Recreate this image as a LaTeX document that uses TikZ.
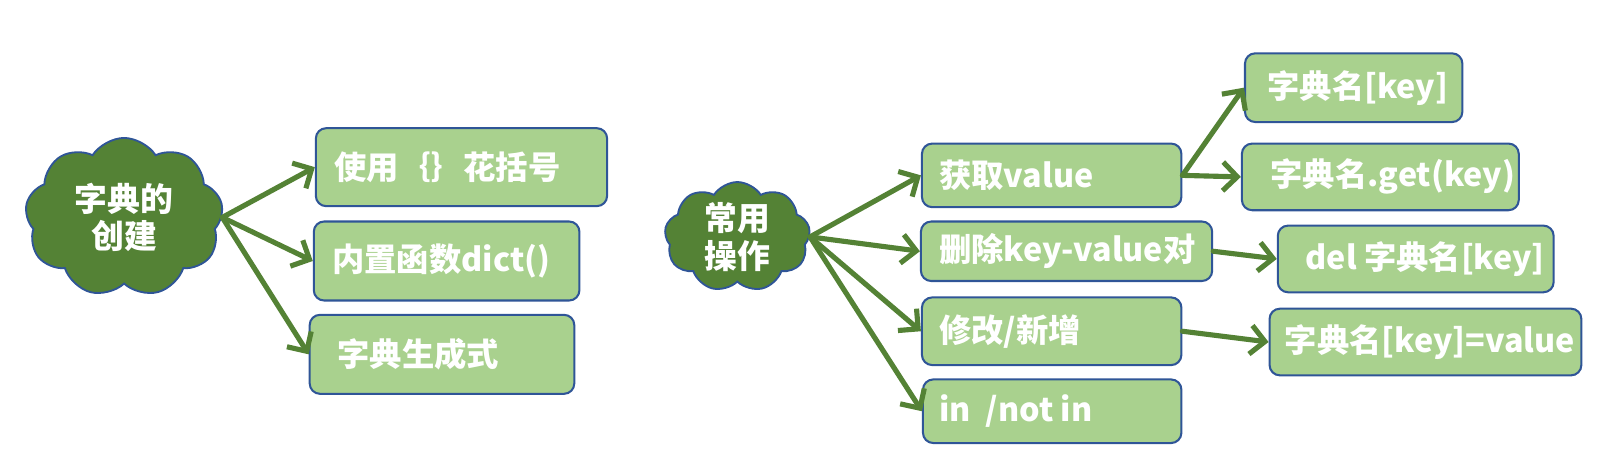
\documentclass[tikz,border=0pt]{standalone}
\usepackage{fontspec}
\setmainfont{Noto Sans CJK SC}
\usetikzlibrary{shapes.symbols,arrows.meta}
\definecolor{boxfill}{HTML}{A9D18E}
\definecolor{bdr}{HTML}{2F5597}
\definecolor{leaf}{HTML}{548235}
\newcommand\bt[3]{\makebox[#1pt][l]{\hspace*{#2pt}#3}}
\tikzset{
 box/.style={draw=bdr, fill=boxfill, line width=2pt, rounded corners=10pt, inner sep=0pt, anchor=north west, text=white, font=\fontsize{31.5}{37}\selectfont\bfseries},
 bubble/.style={cloud, cloud puffs=9, cloud puff arc=115, cloud ignores aspect, draw=bdr, fill=leaf, line width=1.8pt, inner sep=0pt},
 bubtxt/.style={text=white, align=center, inner sep=0pt, font=\fontsize{32}{37}\selectfont\bfseries},
 link/.style={draw=leaf, line width=5pt, -{Straight Barb[length=14pt,width=28pt]}, line cap=round, line join=round},
}
\begin{document}
\begin{tikzpicture}[x=1pt,y=-1pt]
\useasboundingbox (0,0) rectangle (1568,461.2);
% clouds
\node[bubble, minimum width=193pt, minimum height=155pt, label={[bubtxt]center:{字典的\\创建}}] (c1) at (121,212) {};
\node[bubble, minimum width=142pt, minimum height=107pt, label={[bubtxt]center:{常用\\操作}}] (c2) at (719,231) {};
% left boxes
\node[box, minimum height=76pt] (b1) at (307,124) {\bt{284}{18}{使用｛｝花括号}};
\node[box, minimum height=77pt] (b2) at (305,215) {\bt{259}{18}{内置函数dict()}};
\node[box, minimum height=77pt] (b3) at (301,306) {\bt{258}{27}{字典生成式}};
% middle boxes
\node[box, minimum height=62pt] (g1) at (898,139) {\bt{253}{17}{获取value}};
\node[box, minimum height=58pt] (g2) at (897,215) {\bt{284}{18}{删除key-value对}};
\node[box, minimum height=66pt] (g3) at (898,289) {\bt{253}{17}{修改/新增}};
\node[box, minimum height=62pt] (g4) at (899,369) {\bt{252}{16}{in~~/not in}};
% right boxes
\node[box, minimum height=67pt] (r1) at (1213,51) {\bt{212}{22}{字典名[key]}};
\node[box, minimum height=65pt] (r2) at (1210,139) {\bt{270}{28}{字典名.get(key)}};
\node[box, minimum height=65pt] (r3) at (1245,219) {\bt{269}{27}{del 字典名[key]}};
\node[box, minimum height=65pt] (r4) at (1237,300) {\bt{304}{15}{字典名[key]=value}};
% connectors
\draw[link] (c1.east) -- (b1.west);
\draw[link] (c1.east) -- (b2.west);
\draw[link] (c1.east) -- (b3.west);
\draw[link] (c2.east) -- (g1.west);
\draw[link] (c2.east) -- (g2.west);
\draw[link] (c2.east) -- (g3.west);
\draw[link] (c2.east) -- (g4.west);
\draw[link] (g1.east) -- (r1.west);
\draw[link] (g1.east) -- (r2.west);
\draw[link] (g2.east) -- (r3.west);
\draw[link] (g3.east) -- (r4.west);
\end{tikzpicture}
\end{document}
